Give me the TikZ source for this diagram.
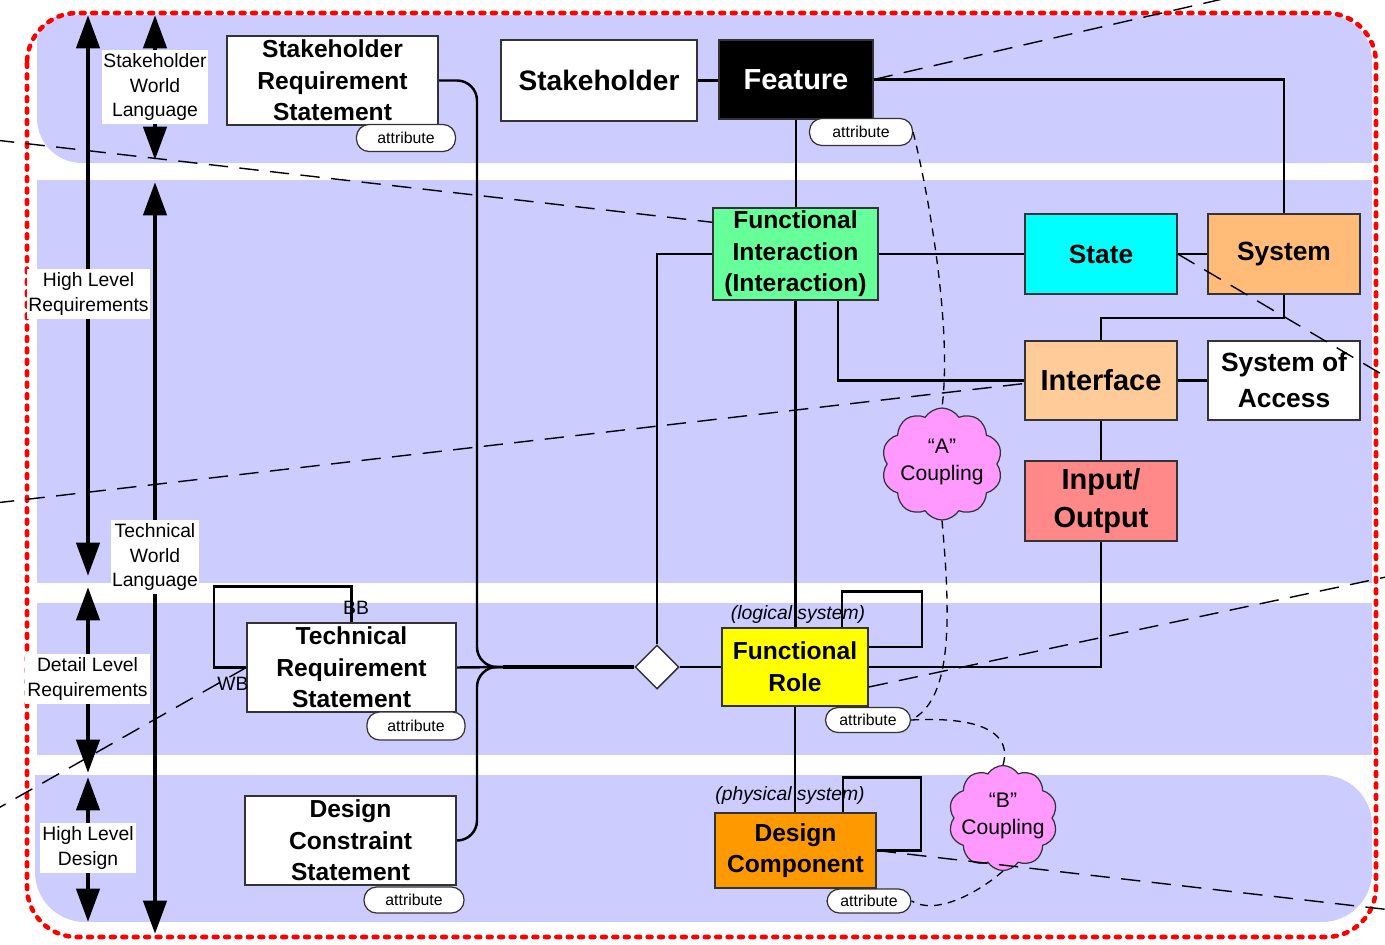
\documentclass[tikz,border=0pt]{standalone}
\usepackage{fontspec}
\setmainfont{Liberation Sans}
\usetikzlibrary{arrows.meta,shapes.geometric,shapes.symbols,calc}
\definecolor{lav}{HTML}{CCCCFF}
\definecolor{bord}{HTML}{333333}
\definecolor{figreen}{HTML}{66FF99}
\definecolor{stcyan}{HTML}{00FFFF}
\definecolor{sysor}{HTML}{FFBB77}
\definecolor{intor}{HTML}{FFCC99}
\definecolor{iored}{HTML}{FF8888}
\definecolor{fryel}{HTML}{FFFF00}
\definecolor{dcor}{HTML}{FF9900}
\definecolor{cloudpk}{HTML}{FF99FF}
\definecolor{dotred}{HTML}{FF0000}
\pgfdeclarelayer{bg}
\pgfdeclarelayer{wires}
\pgfdeclarelayer{top}
\pgfsetlayers{bg,wires,main,top}
\tikzset{
  box/.style={draw=bord, line width=0.85pt, align=center, inner sep=0pt, font=\bfseries\fontsize{14}{18}\selectfont},
  attr/.style={draw=bord, fill=white, line width=0.7pt, rounded corners=2.5mm, inner sep=0pt, font=\fontsize{9}{10}\selectfont},
  conn/.style={line width=1.4pt, draw=black},
  lvl/.style={fill=white, align=center, inner sep=0pt, font=\fontsize{11}{14}\selectfont},
  bigarr/.style={line width=2.8pt, {Triangle[length=19pt,width=13pt]}-{Triangle[length=19pt,width=13pt]}},
  longdash/.style={line width=0.8pt, dash pattern=on 11pt off 6.5pt},
  shortdash/.style={line width=0.75pt, dash pattern=on 4.5pt off 3.5pt},
  coupling/.style={cloud, cloud puffs=10, cloud puff arc=115, cloud ignores aspect, draw=bord, fill=cloudpk, line width=0.7pt, inner sep=0pt},
  cloudtext/.style={align=center, inner sep=0pt, font=\fontsize{12}{15}\selectfont},
  tag/.style={font=\itshape\fontsize{11}{13}\selectfont, inner sep=0pt},
  small/.style={font=\fontsize{11}{13}\selectfont, inner sep=0pt},
}
\begin{document}
\begin{tikzpicture}[x=0.02cm, y=-0.02cm]
\useasboundingbox (0,0) rectangle (1385,944);

% background bands
\begin{pgfonlayer}{bg}
\fill[lav, rounded corners=9mm] (37,15) rectangle (1372,163);
\fill[lav, rounded corners=5.6mm] (37,15) rectangle (150,90);
\fill[lav] (1300,100) rectangle (1372,163);
\fill[lav] (37,180) rectangle (1372,583);
\fill[lav] (37,603) rectangle (1372,755);
\fill[lav, rounded corners=10mm] (35,775) rectangle (1372,922);
\fill[lav] (35,775) rectangle (120,840);
\end{pgfonlayer}

% red dotted frame
\draw[dotred, line width=2.6pt, line cap=round, dash pattern=on 2.2pt off 4.3pt, rounded corners=10mm] (27,13) rectangle (1376,937);

% level arrows
\coordinate (r1a) at (88,15);  \coordinate (r1b) at (88,576);
\coordinate (r2a) at (155,15); \coordinate (r2b) at (155,160);
\coordinate (r3a) at (155,182); \coordinate (r3b) at (155,934);
\coordinate (r4a) at (88,587); \coordinate (r4b) at (88,773);
\coordinate (r5a) at (88,777); \coordinate (r5b) at (88,922);
\draw[bigarr] (r1a) -- (r1b);
\draw[bigarr] (r2a) -- (r2b);
\draw[bigarr] (r3a) -- (r3b);
\draw[bigarr] (r4a) -- (r4b);
\draw[bigarr] (r5a) -- (r5b);

\node[lvl, minimum width=21.2mm, minimum height=14.8mm] (lsw) at (155,87) {Stakeholder\\World\\Language};
\node[lvl, minimum width=24.6mm, minimum height=10mm] (lhr) at (88.5,294) {High Level\\Requirements};
\node[lvl, minimum width=17.6mm, minimum height=14.8mm] (ltw) at (155,557) {Technical\\World\\Language};
\node[lvl, minimum width=25mm, minimum height=10mm] (ldr) at (87.5,679) {Detail Level\\Requirements};
\node[lvl, minimum width=19.2mm, minimum height=10mm] (lhd) at (88,848) {High Level\\Design};

% nodes
\node[box, fill=white, minimum width=42.2mm, minimum height=17.8mm] (srs) at (332.5,80.5) {Stakeholder\\Requirement\\Statement};
\node[attr, minimum width=19.8mm, minimum height=5.4mm] (a1) at (406,138) {attribute};
\node[box, fill=white, minimum width=39.2mm, minimum height=16.2mm, font=\bfseries\fontsize{16}{19}\selectfont] (stk) at (599,80.5) {Stakeholder};
\node[box, fill=black, text=white, minimum width=30.8mm, minimum height=15.8mm, font=\bfseries\fontsize{16.5}{19}\selectfont] (feat) at (796,79.5) {Feature};
\node[attr, minimum width=20.6mm, minimum height=5.4mm] (a2) at (861,132) {attribute};
\node[box, fill=figreen, minimum width=33mm, minimum height=18.4mm] (fi) at (795.5,254) {Functional\\Interaction\\(Interaction)};
\node[box, fill=stcyan, minimum width=30.4mm, minimum height=16mm, font=\bfseries\fontsize{15}{18}\selectfont] (state) at (1101,254) {State};
\node[box, fill=sysor, minimum width=30.4mm, minimum height=16mm, font=\bfseries\fontsize{15}{18}\selectfont] (sys) at (1284,254) {System};
\node[box, fill=intor, minimum width=30.4mm, minimum height=15.8mm, font=\bfseries\fontsize{16.5}{20}\selectfont] (intf) at (1101,380.5) {Interface};
\node[box, fill=white, minimum width=30.4mm, minimum height=15.8mm, font=\bfseries\fontsize{15}{20.5}\selectfont] (soa) at (1284,380.5) {System of\\Access};
\node[box, fill=iored, minimum width=30.4mm, minimum height=16mm, font=\bfseries\fontsize{16.5}{22}\selectfont] (io) at (1101,501) {Input/\\Output};
\node[coupling, minimum width=24.2mm, minimum height=22.4mm] (ca) at (942,464) {};
\node[cloudtext] (catxt) at (942,462) {“A”\\Coupling};

\node[box, fill=white, minimum width=41.8mm, minimum height=17.8mm] (trs) at (351.5,667.5) {Technical\\Requirement\\Statement};
\node[attr, minimum width=19.6mm, minimum height=5.6mm] (a3) at (416,726) {attribute};
\node[box, fill=white, minimum width=42.2mm, minimum height=17.8mm] (dcs) at (350.5,840.5) {Design\\Constraint\\Statement};
\node[attr, minimum width=20mm, minimum height=5.2mm] (a4) at (414,900) {attribute};
\node[diamond, draw=bord, fill=white, line width=0.85pt, minimum size=8.8mm, inner sep=0pt] (dia) at (657,667) {};
\node[box, fill=fryel, minimum width=29.2mm, minimum height=15.6mm] (fr) at (795,667) {Functional\\Role};
\node[tag] (lsys) at (798,614) {(logical system)};
\node[attr, minimum width=17mm, minimum height=5mm] (a5) at (868,720) {attribute};
\node[box, fill=dcor, minimum width=32.2mm, minimum height=15mm] (dc) at (795.5,850.5) {Design\\Component};
\node[tag] (psys) at (790,795) {(physical system)};
\node[attr, minimum width=16.8mm, minimum height=4.8mm] (a6) at (869,901) {attribute};
\node[coupling, minimum width=21.8mm, minimum height=21mm] (cb) at (1003,818) {};
\node[cloudtext] (cbtxt) at (1003,816) {“B”\\Coupling};
\node[small] (bb) at (356,608) {BB};
\node[small] (wb) at (233,684) {WB};

% solid connectors
\begin{pgfonlayer}{wires}
\draw[conn] (stk.east) -- (stk.east -| feat.west);
\draw[conn] (feat.east) -| (sys.north);
\draw[conn] (feat.south) -- (feat.south |- fi.north);
\draw[conn] (fi) -- (state);
\draw[conn] (state) -- (sys);
\draw[conn] (fi.south) -- (fi.south |- fr.north);
\draw[conn] ($(fi.south)!0.51!(fi.south east)$) |- (intf.west);
\draw[conn] (sys.south) -- ++(0,23) -| (intf.north);
\draw[conn] (intf) -- (soa);
\draw[conn] (intf) -- (io);
\draw[conn] (io.south) |- (fr.east);
\draw[conn] (dia.east) -- (fr.west);
\draw[conn] (dia.north) |- (fi.west);
\draw[conn] (fr.south) -- (fr.south |- dc.north);
\draw[conn] ($(fr.north)+(47,0)$) |- ($(fr.north)+(127,-36)$) |- ($(fr.east)+(0,-20)$);
\draw[conn] ($(dc.north)+(47.5,0)$) |- ($(dc.north)+(125.5,-35)$) |- (dc.east);
\draw[conn] (trs.north) |- ($(trs.north)+(-137.5,-36)$) |- (trs.west);
\coordinate (jn) at (503,667);
\draw[conn, rounded corners=4mm] (srs.east) -| ($(jn)+(-26,0)$) -- (jn);
\draw[conn, rounded corners=4mm] (dcs.east) -| ($(jn)+(-26,0)$) -- (jn);
\draw[conn] (trs.east) -- (jn);
\draw[line width=2.2pt] (jn) -- (dia.west);
\end{pgfonlayer}

% dashed lines
\begin{pgfonlayer}{top}
\coordinate (e1) at (-5,140);
\coordinate (e2) at (1240,-5);
\coordinate (e3) at (1400,385);
\coordinate (e4) at (-5,503);
\coordinate (e5) at (1400,574);
\coordinate (e6) at (-5,810);
\coordinate (e7) at (1400,911);
\draw[longdash] (e1) -- ($(fi.north west)+(0,15)$);
\draw[longdash] (feat.east) -- (e2);
\draw[longdash] (state.east) -- (e3);
\draw[longdash] (e4) -- ($(intf.west)+(0,3)$);
\draw[longdash] ($(fr.east)+(0,20)$) -- (e5);
\draw[longdash] (trs.west) -- (e6);
\draw[longdash] (dc.east) -- (e7);
\draw[shortdash] (a2.east) .. controls (930,200) and (952,330) .. (ca.north);
\draw[shortdash] (ca.south) .. controls (952,630) and (950,700) .. (a5.east);
\draw[shortdash] (a5.east) .. controls (985,716) and (1012,735) .. (cb.north);
\draw[shortdash] (cb.south) .. controls (975,895) and (935,915) .. (a6.east);
\end{pgfonlayer}
\end{tikzpicture}
\end{document}
